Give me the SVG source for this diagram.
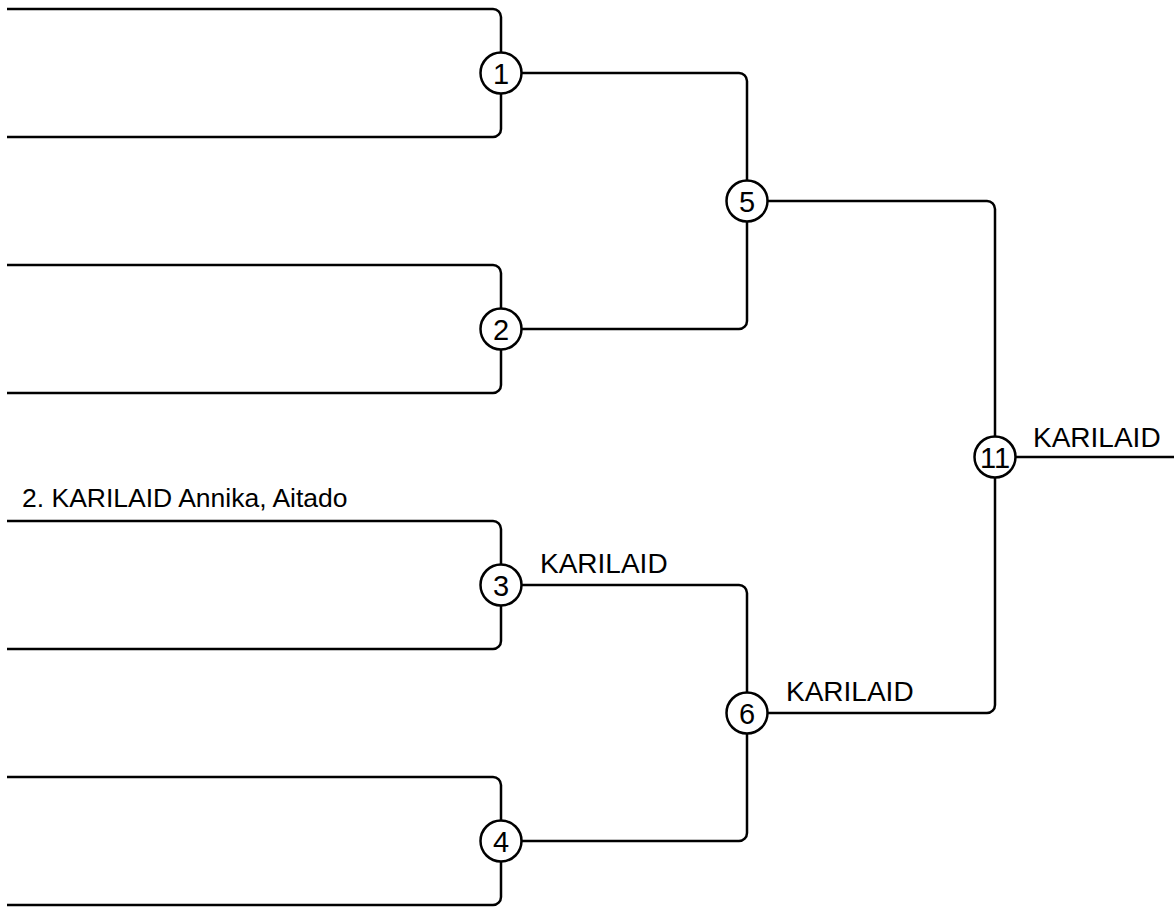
<svg xmlns="http://www.w3.org/2000/svg" width="1174" height="907" viewBox="0 0 1174 907">
<style>
.c{fill:none;stroke:#000;stroke-width:2.5}
.n circle{fill:#fff;stroke:#000;stroke-width:2.5}
.n text{font-family:"Liberation Sans",Arial,sans-serif;font-size:29px;text-anchor:middle;fill:#000}
.l{font-family:"Liberation Sans",Arial,sans-serif;font-size:28px;fill:#000}
.l2{font-family:"Liberation Sans",Arial,sans-serif;font-size:26.5px;fill:#000}
</style>
<rect width="1174" height="907" fill="#fff"/>
<g id="connectors">
<path class="c" d="M7,9 H493 A8 8 0 0 1 501,17 V129 A8 8 0 0 1 493,137 H7"/>
<path class="c" d="M7,265 H493 A8 8 0 0 1 501,273 V385 A8 8 0 0 1 493,393 H7"/>
<path class="c" d="M7,521 H493 A8 8 0 0 1 501,529 V641 A8 8 0 0 1 493,649 H7"/>
<path class="c" d="M7,777 H493 A8 8 0 0 1 501,785 V897 A8 8 0 0 1 493,905 H7"/>
<path class="c" d="M521,73 H739 A8 8 0 0 1 747,81 V321 A8 8 0 0 1 739,329 H521"/>
<path class="c" d="M521,585 H739 A8 8 0 0 1 747,593 V833 A8 8 0 0 1 739,841 H521"/>
<path class="c" d="M767,201 H987 A8 8 0 0 1 995,209 V705 A8 8 0 0 1 987,713 H767"/>
<path class="c" d="M1015,457 H1174"/>
</g>
<g id="labels">
<text class="l2" x="22" y="507">2. KARILAID Annika, Aitado</text>
<text class="l" x="540" y="573">KARILAID</text>
<text class="l" x="786" y="701">KARILAID</text>
<text class="l" x="1033" y="447">KARILAID</text>
</g>
<g id="m1" class="n"><circle cx="501" cy="73" r="20.5"/><text x="501" y="84">1</text></g>
<g id="m2" class="n"><circle cx="501" cy="329" r="20.5"/><text x="501" y="340">2</text></g>
<g id="m3" class="n"><circle cx="501" cy="585" r="20.5"/><text x="501" y="596">3</text></g>
<g id="m4" class="n"><circle cx="501" cy="841" r="20.5"/><text x="501" y="852">4</text></g>
<g id="m5" class="n"><circle cx="747" cy="201" r="20.5"/><text x="747" y="212">5</text></g>
<g id="m6" class="n"><circle cx="747" cy="713" r="20.5"/><text x="747" y="724">6</text></g>
<g id="m11" class="n"><circle cx="995" cy="457" r="20.5"/><text x="995" y="468">11</text></g>
</svg>
